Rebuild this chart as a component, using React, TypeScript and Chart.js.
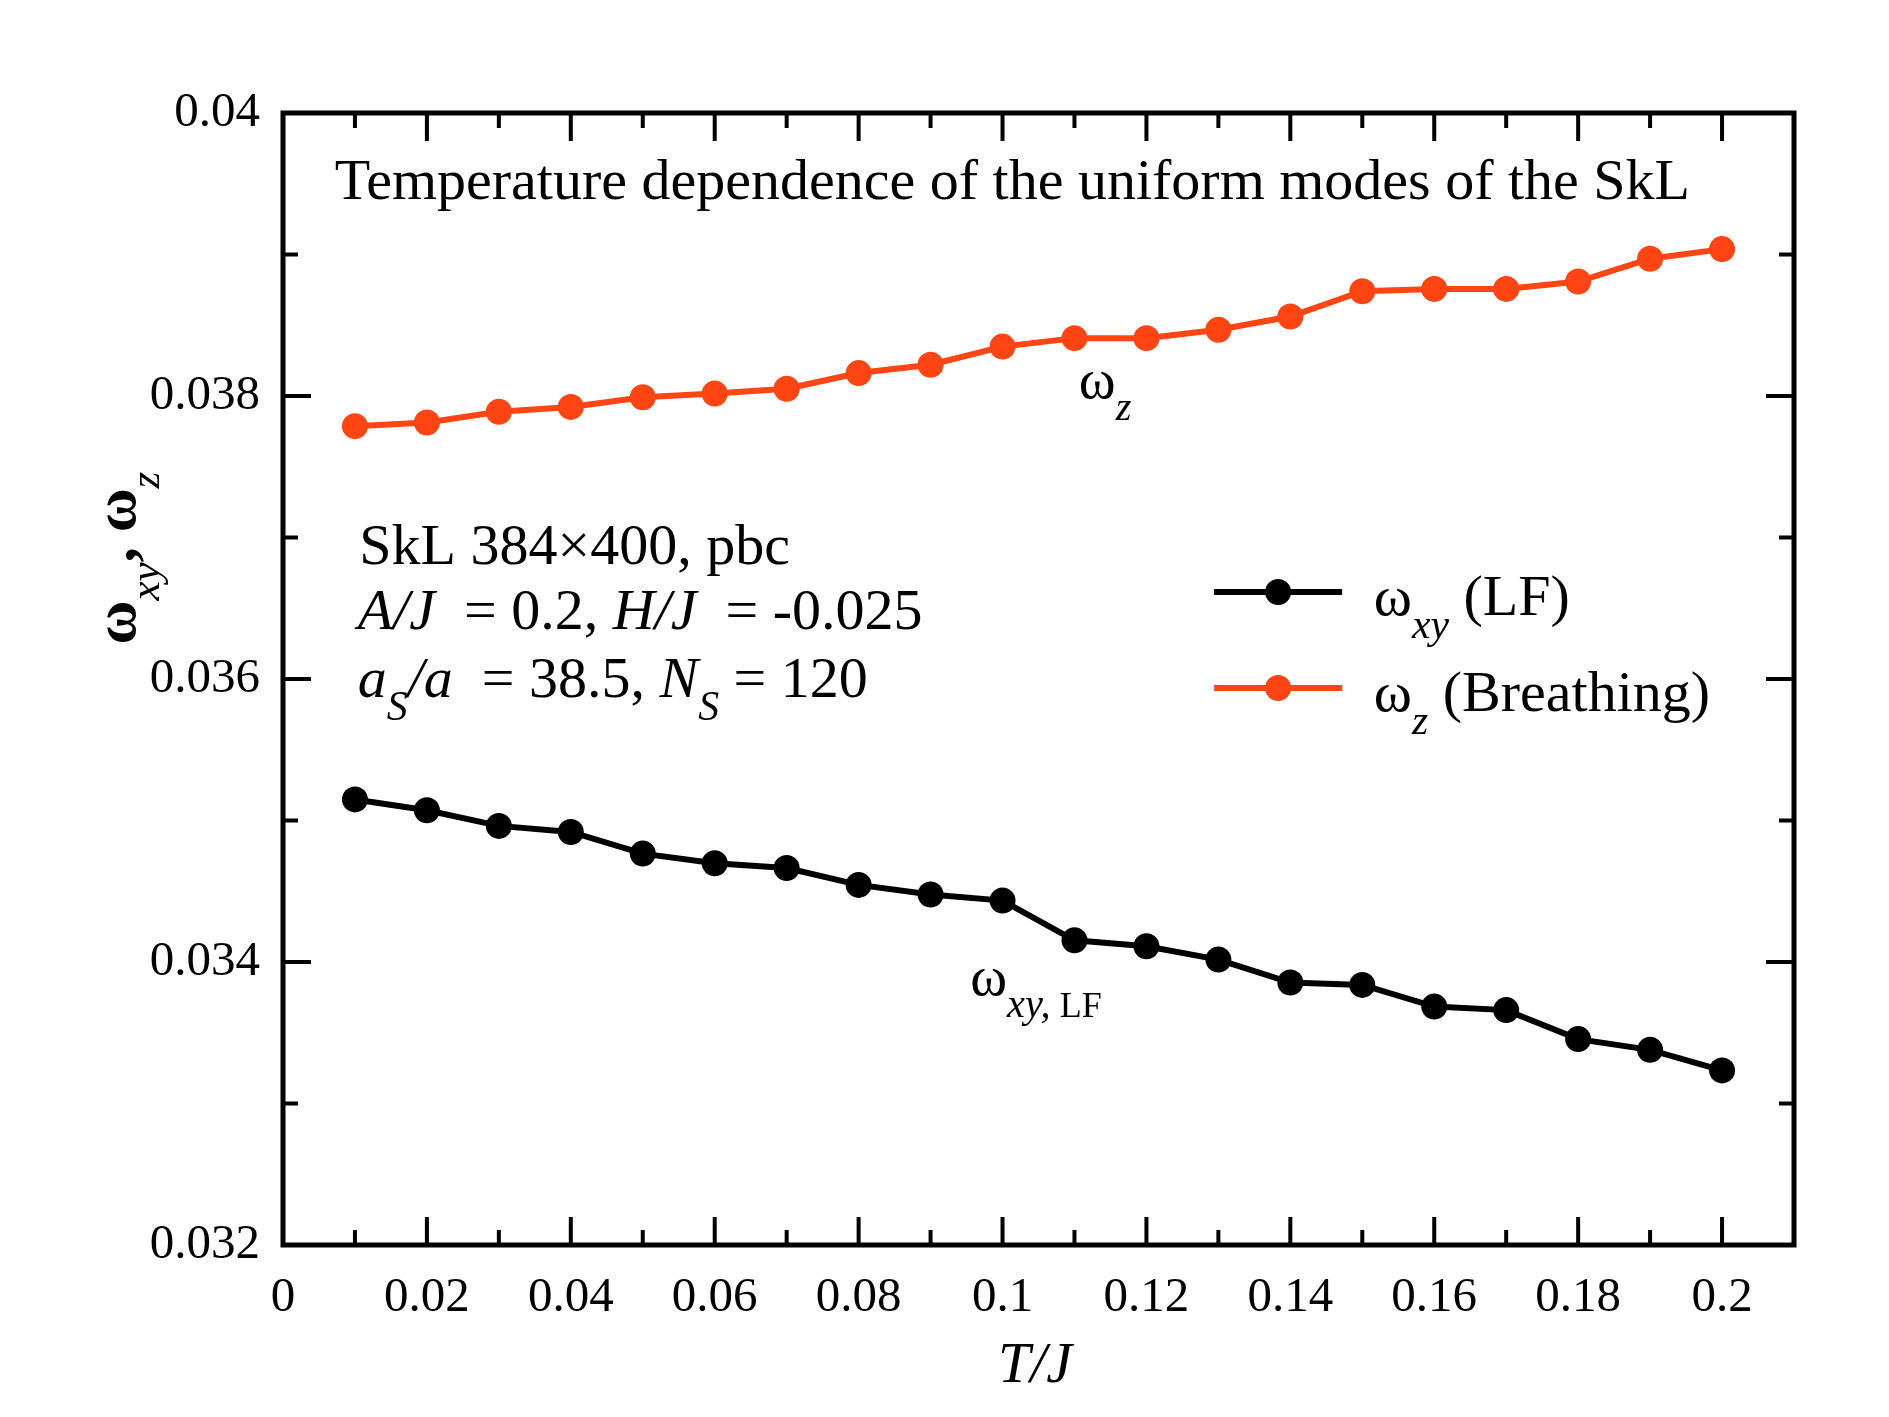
import { useEffect, useRef } from 'react';
import { Chart, registerables } from 'chart.js';

Chart.register(...registerables);

const temperature = [0.01, 0.02, 0.03, 0.04, 0.05, 0.06, 0.07, 0.08, 0.09, 0.1, 0.11, 0.12, 0.13, 0.14, 0.15, 0.16, 0.17, 0.18, 0.19, 0.2];
const omegaXY = [0.035149, 0.035072, 0.034962, 0.034919, 0.034766, 0.034698, 0.034664, 0.034545, 0.034477, 0.034434, 0.034153, 0.034111, 0.034017, 0.033855, 0.033838, 0.033685, 0.03366, 0.033455, 0.033379, 0.033234];
const omegaZ = [0.037787, 0.037813, 0.037889, 0.037923, 0.037991, 0.038017, 0.038051, 0.038162, 0.038221, 0.038349, 0.038409, 0.038409, 0.038468, 0.038562, 0.03874, 0.038757, 0.038757, 0.038809, 0.03897, 0.039038];
const xTickValues = [0, 0.01, 0.02, 0.03, 0.04, 0.05, 0.06, 0.07, 0.08, 0.09, 0.1, 0.11, 0.12, 0.13, 0.14, 0.15, 0.16, 0.17, 0.18, 0.19, 0.2];
const yTickValues = [0.032, 0.033, 0.034, 0.035, 0.036, 0.037, 0.038, 0.039, 0.04];

const seriesNames = ['ω_xy (LF)', 'ω_z (Breathing)'];
const seriesColors = ['#000000', '#ff4513'];

const FONT = "'Liberation Serif', 'Times New Roman', serif";

type Seg = { t: string; it?: boolean; b?: boolean; sub?: boolean; s?: number };

function drawRich(ctx: CanvasRenderingContext2D, segs: Seg[], x: number, y: number, base: number, draw = true) {
  let cx = x;
  for (const sg of segs) {
    const size = sg.s ?? (sg.sub ? base * 0.72 : base);
    ctx.font = `${sg.it ? 'italic ' : ''}${sg.b ? 'bold ' : ''}${size}px ${FONT}`;
    if (draw) ctx.fillText(sg.t, cx, sg.sub ? y + base * 0.4 : y);
    cx += ctx.measureText(sg.t).width;
  }
  return cx - x;
}

const decor = {
  id: 'decor',
  afterDraw(chart: any) {
    const { ctx, chartArea: a, scales } = chart;
    const xs = scales.x;
    const ys = scales.y;
    ctx.save();
    ctx.strokeStyle = '#000';
    ctx.lineWidth = 4;
    // inward ticks on all four sides
    for (const v of xTickValues) {
      const px = xs.getPixelForValue(v);
      if (px <= a.left + 1) continue;
      const len = Math.round(v * 100) % 2 === 0 ? 28 : 15;
      ctx.beginPath();
      ctx.moveTo(px, a.bottom);
      ctx.lineTo(px, a.bottom - len);
      ctx.moveTo(px, a.top);
      ctx.lineTo(px, a.top + len);
      ctx.stroke();
    }
    for (const v of yTickValues) {
      const py = ys.getPixelForValue(v);
      if (py >= a.bottom - 1 || py <= a.top + 1) continue;
      const len = Math.round(v * 1000) % 2 === 0 ? 28 : 15;
      ctx.beginPath();
      ctx.moveTo(a.left, py);
      ctx.lineTo(a.left + len, py);
      ctx.moveTo(a.right, py);
      ctx.lineTo(a.right - len, py);
      ctx.stroke();
    }
    ctx.lineWidth = 5;
    ctx.strokeRect(a.left, a.top, a.right - a.left, a.bottom - a.top);

    ctx.fillStyle = '#000';
    ctx.textBaseline = 'alphabetic';
    ctx.textAlign = 'left';
    const X = (v: number) => xs.getPixelForValue(v);
    const Y = (v: number) => ys.getPixelForValue(v);

    drawRich(ctx, [{ t: 'Temperature dependence of the uniform modes of the SkL' }], X(0.0072), Y(0.039392), 58);
    drawRich(ctx, [{ t: 'ω' }, { t: 'z', it: true, sub: true }], X(0.1106), Y(0.037986), 56);
    drawRich(ctx, [{ t: 'ω' }, { t: 'xy,', it: true, sub: true }, { t: ' LF', sub: true, s: 36 }], X(0.0955), Y(0.033767), 56);

    drawRich(ctx, [{ t: 'SkL 384×400, pbc' }], X(0.0106), Y(0.036813), 58);
    drawRich(ctx, [{ t: 'A/J', it: true }, { t: '  = 0.2, ' }, { t: 'H/J', it: true }, { t: '  = -0.025' }], X(0.0104), Y(0.036353), 58);
    drawRich(ctx, [{ t: 'a', it: true }, { t: 'S', it: true, sub: true }, { t: '/a', it: true }, { t: '  = 38.5, ' }, { t: 'N', it: true }, { t: 'S', it: true, sub: true }, { t: ' = 120' }], X(0.0104), Y(0.035873), 58);

    // legend
    const legY = [Y(0.036615), Y(0.035936)];
    const legSegs: Seg[][] = [
      [{ t: 'ω' }, { t: 'xy', it: true, sub: true }, { t: ' (LF)' }],
      [{ t: 'ω' }, { t: 'z', it: true, sub: true }, { t: ' (Breathing)' }],
    ];
    seriesNames.forEach((_, i) => {
      const x0 = X(0.1294);
      const x1 = X(0.1472);
      ctx.strokeStyle = seriesColors[i];
      ctx.fillStyle = seriesColors[i];
      ctx.lineWidth = 6;
      ctx.beginPath();
      ctx.moveTo(x0, legY[i]);
      ctx.lineTo(x1, legY[i]);
      ctx.stroke();
      ctx.beginPath();
      ctx.arc((x0 + x1) / 2, legY[i], 13, 0, Math.PI * 2);
      ctx.fill();
      ctx.fillStyle = '#000';
      drawRich(ctx, legSegs[i], X(0.1516), legY[i] + 23, 58);
    });

    // axis titles
    drawRich(ctx, [{ t: 'T/J', it: true }], 998, 1382, 58);

    const yt: Seg[] = [{ t: 'ω', b: true }, { t: 'xy', it: true, sub: true }, { t: ', ', b: true }, { t: 'ω', b: true }, { t: 'z', it: true, sub: true }];
    const yw = drawRich(ctx, yt, 0, 0, 60, false);
    ctx.translate(135, 558);
    ctx.rotate(-Math.PI / 2);
    drawRich(ctx, yt, -yw / 2, 0, 60);
    ctx.restore();
  },
};

export default function App() {
  const canvasRef = useRef<HTMLCanvasElement>(null);

  useEffect(() => {
    document.body.style.margin = '0';
    const canvas = canvasRef.current;
    if (!canvas) return;

    const chart = new Chart(canvas, {
      type: 'line',
      data: {
        datasets: [
          {
            label: seriesNames[0],
            data: temperature.map((t, i) => ({ x: t, y: omegaXY[i] })),
            borderColor: seriesColors[0],
            backgroundColor: seriesColors[0],
            borderWidth: 6,
            pointRadius: 13,
            pointBorderWidth: 0,
          },
          {
            label: seriesNames[1],
            data: temperature.map((t, i) => ({ x: t, y: omegaZ[i] })),
            borderColor: seriesColors[1],
            backgroundColor: seriesColors[1],
            borderWidth: 6,
            pointRadius: 13,
            pointBorderWidth: 0,
          },
        ],
      },
      options: {
        animation: false,
        responsive: true,
        maintainAspectRatio: false,
        devicePixelRatio: 1,
        layout: { padding: { top: 113, right: 95, left: 0, bottom: 0 } },
        plugins: { legend: { display: false }, tooltip: { enabled: false } },
        scales: {
          x: {
            type: 'linear',
            min: 0,
            max: 0.21,
            afterBuildTicks: (s: any) => {
              s.ticks = xTickValues.map((v) => ({ value: v }));
            },
            afterFit: (s: any) => {
              s.height = 172;
            },
            grid: { display: false, drawTicks: false },
            border: { display: false },
            ticks: {
              autoSkip: false,
              maxRotation: 0,
              padding: 24,
              color: '#000',
              font: { family: FONT, size: 49 },
              callback: (v: any) => (Math.round(Number(v) * 100) % 2 === 0 ? String(+Number(v).toFixed(3)) : ''),
            },
          },
          y: {
            type: 'linear',
            min: 0.032,
            max: 0.04,
            afterBuildTicks: (s: any) => {
              s.ticks = yTickValues.map((v) => ({ value: v }));
            },
            afterFit: (s: any) => {
              s.width = 283;
            },
            grid: { display: false, drawTicks: false },
            border: { display: false },
            ticks: {
              autoSkip: false,
              padding: 23,
              color: '#000',
              font: { family: FONT, size: 49 },
              callback: (v: any) => (Math.round(Number(v) * 1000) % 2 === 0 ? String(+Number(v).toFixed(3)) : ''),
            },
          },
        },
      },
      plugins: [decor],
    });

    return () => chart.destroy();
  }, []);

  return (
    <div style={{ width: 1889, height: 1417, background: '#fff' }}>
      <canvas ref={canvasRef} />
    </div>
  );
}
